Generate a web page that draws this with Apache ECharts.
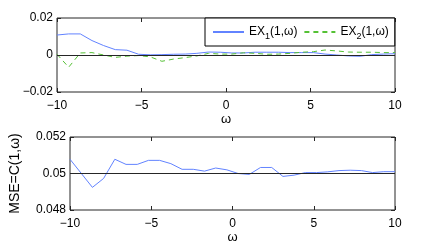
<!DOCTYPE html>
<html>
<head>
<meta charset="utf-8">
<script src="https://cdn.jsdelivr.net/npm/echarts@6/dist/echarts.min.js"></script>
<style>
html,body{margin:0;padding:0;background:#fff;}
#c{width:436px;height:250px;}
</style>
</head>
<body>
<div id="c"></div>
<script>
const omega = [-10,-9.310,-8.621,-7.931,-7.241,-6.552,-5.862,-5.172,-4.483,-3.793,-3.103,-2.414,-1.724,-1.034,-0.345,0.345,1.034,1.724,2.414,3.103,3.793,4.483,5.172,5.862,6.552,7.241,7.931,8.621,9.310,10];
const ex1 = [0.0108,0.0114,0.0114,0.0078,0.0051,0.0029,0.0026,0.0004,0.0001,0.0002,0.0004,0.0005,0.0009,0.0016,0.0015,0.0011,0.0011,0.0015,0.0015,0.0015,0.0013,0.0013,0.0013,0.0005,0.0000,-0.0005,-0.0007,0.0002,0.0005,0.0007];
const ex2 = [0.0004,-0.0066,0.0011,0.0013,0.0000,-0.0013,-0.0006,-0.0003,-0.0010,-0.0034,-0.0022,-0.0014,-0.0005,0.0009,0.0005,0.0005,0.0012,0.0009,0.0004,0.0005,0.0009,0.0015,0.0018,0.0027,0.0022,0.0016,0.0015,0.0015,0.0013,0.0013];
const mse = [0.05078,0.05001,0.04924,0.04973,0.05078,0.0505,0.0505,0.05072,0.05072,0.05054,0.05023,0.05023,0.05013,0.0503,0.0502,0.05,0.04995,0.05033,0.05033,0.04984,0.04991,0.05005,0.05005,0.05009,0.05016,0.05018,0.05016,0.05005,0.0501,0.0501];
const xTicks = {min:-10, max:10, interval:5};
const topY = {min:-0.02, max:0.02, interval:0.02};
const botY = {min:0.048, max:0.052, interval:0.002};
const topRef = 0;
const botRef = 0.05;
const seriesNames = ['EX1','EX2'];

const FONT = 'Liberation Sans, Arial, sans-serif';
const AX = '#262626';
function fmt(v){
  const r = parseFloat(Number(v).toFixed(4));
  return String(r).replace('-', '\u2212');
}
function xAxis(gi, pos, labels, name){
  return {
    type:'value', gridIndex:gi, position:pos, min:xTicks.min, max:xTicks.max, interval:xTicks.interval,
    axisLine:{show:false, onZero:false},
    axisTick:{show:true, inside:true, length:4, lineStyle:{color:AX}},
    axisLabel:{show:labels, formatter:fmt, color:'#000', fontSize:12, fontFamily:FONT, margin:8},
    splitLine:{show:false},
    name: name||'', nameLocation:'middle', nameGap:19,
    nameTextStyle:{color:'#000', fontSize:13, fontFamily:FONT}
  };
}
function yAxis(gi, pos, labels, r, name){
  return {
    type:'value', gridIndex:gi, position:pos, min:r.min, max:r.max, interval:r.interval,
    axisLine:{show:false, onZero:false},
    axisTick:{show:true, inside:true, length:4, lineStyle:{color:AX}},
    axisLabel:{show:labels, formatter:fmt, color:'#000', fontSize:12, fontFamily:FONT, margin:4},
    splitLine:{show:false},
    name: name||'', nameLocation:'middle', nameGap:48, nameRotate:90,
    nameTextStyle:{color:'#000', fontSize:14, fontFamily:FONT}
  };
}
function pairs(ys){ return omega.map((x,i)=>[x, ys[i]]); }
function refLine(v){
  return {silent:true, symbol:'none', label:{show:false}, animation:false,
    lineStyle:{color:AX, type:'solid', width:1}, data:[{yAxis:v}]};
}

const chart = echarts.init(document.getElementById('c'), null, {renderer:'canvas'});
chart.setOption({
  animation:false,
  backgroundColor:'#fff',
  grid:[
    {left:57, right:41, top:18, height:74, show:true, borderColor:AX, borderWidth:1, backgroundColor:'#fff'},
    {left:57, right:41, top:137, height:73, show:true, borderColor:AX, borderWidth:1, backgroundColor:'#fff'}
  ],
  xAxis:[
    xAxis(0,'bottom',true,'\u03c9'),
    xAxis(0,'top',false),
    xAxis(1,'bottom',true,'\u03c9'),
    xAxis(1,'top',false)
  ],
  yAxis:[
    yAxis(0,'left',true,topY),
    yAxis(0,'right',false,topY),
    yAxis(1,'left',true,botY,'MSE=C(1,\u03c9)'),
    yAxis(1,'right',false,botY)
  ],
  legend:{
    left:205, top:18, orient:'horizontal',
    data:seriesNames,
    borderColor:'#000', borderWidth:1, backgroundColor:'#fff',
    padding:[5,6,5,7], itemGap:6, itemWidth:31, itemHeight:18,
    itemStyle:{opacity:0},
    formatter:function(n){ return n==='EX1' ? '{a|EX}{s|1}{a|(1,\u03c9)}' : '{a|EX}{s|2}{a|(1,\u03c9)}'; },
    textStyle:{
      color:'#000', fontFamily:FONT, fontSize:12, lineHeight:18,
      rich:{
        a:{fontSize:12, fontFamily:FONT, color:'#000', lineHeight:18, verticalAlign:'middle'},
        s:{fontSize:9, fontFamily:FONT, color:'#000', lineHeight:18, verticalAlign:'bottom', padding:[4,0,0,0]}
      }
    }
  },
  series:[
    {name:'EX1', type:'line', xAxisIndex:0, yAxisIndex:0, data:pairs(ex1), symbol:'none',
      lineStyle:{color:'#6283ff', width:1}, itemStyle:{color:'#6283ff'}, z:3,
      markLine:refLine(topRef)},
    {name:'EX2', type:'line', xAxisIndex:0, yAxisIndex:0, data:pairs(ex2), symbol:'none',
      lineStyle:{color:'#55c135', width:1, type:[5,4]}, itemStyle:{color:'#55c135'}, z:3},
    {name:'MSE', type:'line', xAxisIndex:2, yAxisIndex:2, data:pairs(mse), symbol:'none',
      lineStyle:{color:'#6283ff', width:1}, itemStyle:{color:'#6283ff'}, z:3,
      markLine:refLine(botRef)}
  ]
});
</script>
</body>
</html>
